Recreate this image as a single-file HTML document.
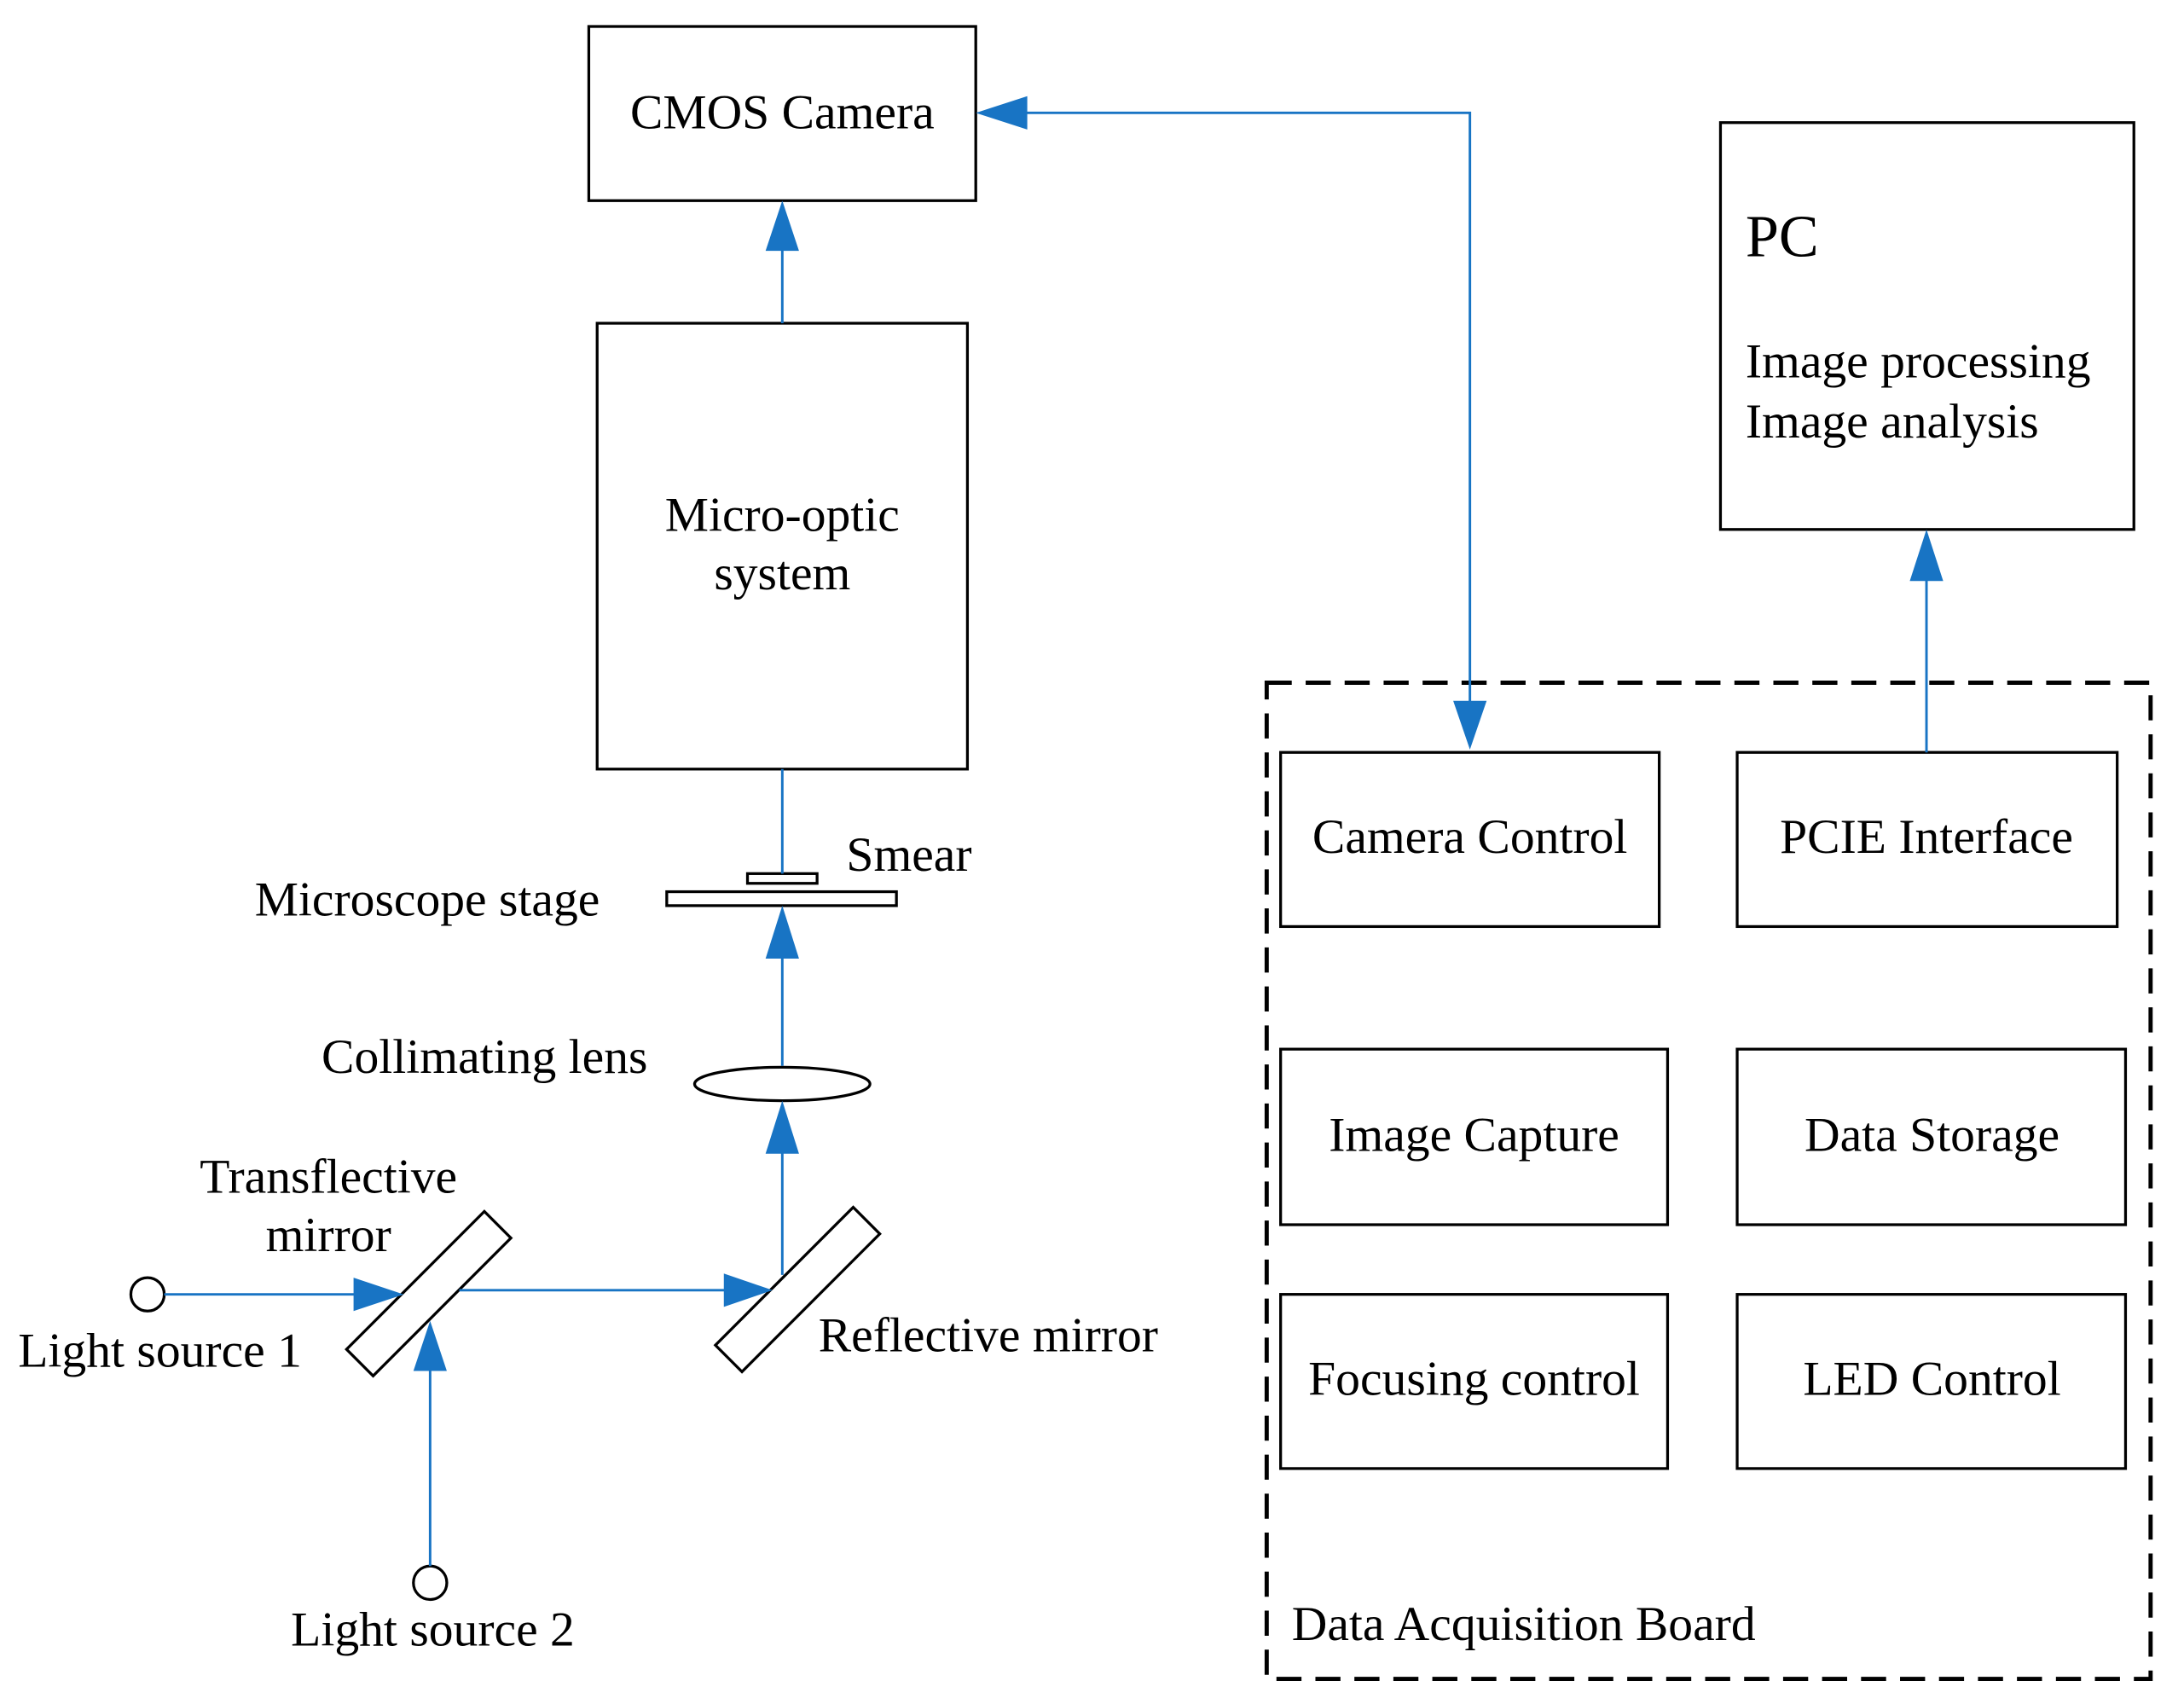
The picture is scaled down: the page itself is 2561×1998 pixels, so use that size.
<!DOCTYPE html>
<html><head><meta charset="utf-8"><style>html,body{margin:0;padding:0;background:#fff}svg{display:block}</style></head>
<body>
<svg width="2561" height="1998" viewBox="0 0 1569 1223" preserveAspectRatio="none" xmlns="http://www.w3.org/2000/svg" font-family="Liberation Serif, serif" font-size="35.3" fill="#000">
<g fill="none" stroke="#000" stroke-width="2">
<rect x="423" y="19" width="278" height="125"/>
<rect x="429" y="232" width="266" height="320"/>
<rect x="537" y="627" width="50" height="7"/>
<rect x="479" y="640" width="165" height="10"/>
<ellipse cx="562" cy="778" rx="63" ry="12"/>
<rect x="238" y="915" width="140" height="27" transform="rotate(-45 308 928.5)" fill="#fff"/>
<rect x="503" y="912" width="140" height="27" transform="rotate(-45 573 925.5)" fill="#fff"/>
<circle cx="106" cy="929" r="12"/>
<circle cx="309" cy="1136" r="12"/>
<rect x="1236" y="88" width="297" height="292"/>
<rect x="920" y="540" width="272" height="125"/>
<rect x="1248" y="540" width="273" height="125"/>
<rect x="920" y="753" width="278" height="126"/>
<rect x="1248" y="753" width="279" height="126"/>
<rect x="920" y="929" width="278" height="125"/>
<rect x="1248" y="929" width="279" height="125"/>
<rect x="910" y="490" width="635" height="715" stroke-width="3" stroke-dasharray="18,10"/>
</g>
<g stroke="#1874c4" stroke-width="1.8" fill="none">
<line x1="562" y1="232" x2="562" y2="170"/>
<line x1="562" y1="552" x2="562" y2="627"/>
<line x1="562" y1="765" x2="562" y2="680"/>
<line x1="562" y1="915" x2="562" y2="820"/>
<line x1="118" y1="929" x2="260" y2="929"/>
<line x1="330" y1="926" x2="525" y2="926"/>
<line x1="309" y1="1124" x2="309" y2="975"/>
<polyline points="1056,510 1056,81 730,81"/>
<line x1="1384" y1="540" x2="1384" y2="410"/>
</g>
<g fill="#1874c4">
<polygon points="562,144 550,180 574,180"/>
<polygon points="562,650 550,688 574,688"/>
<polygon points="562,790 550,828 574,828"/>
<polygon points="290,929 254,917 254,941"/>
<polygon points="555,926 520,914 520,938"/>
<polygon points="309,948 297,984 321,984"/>
<polygon points="701,81 738,69 738,93"/>
<polygon points="1056,538 1044,503 1068,503"/>
<polygon points="1384,380 1372,417 1396,417"/>
</g>
<g text-anchor="middle">
<text x="562" y="92">CMOS Camera</text>
<text x="562" y="381">Micro-optic</text>
<text x="562" y="423">system</text>
<text x="236" y="856">Transflective</text>
<text x="236" y="898">mirror</text>
<text x="1056" y="612">Camera Control</text>
<text x="1384" y="612">PCIE Interface</text>
<text x="1059" y="826">Image Capture</text>
<text x="1388" y="826">Data Storage</text>
<text x="1059" y="1001">Focusing control</text>
<text x="1388" y="1001">LED Control</text>
</g>
<text x="608" y="625">Smear</text>
<text x="183" y="657">Microscope stage</text>
<text x="231" y="770">Collimating lens</text>
<text x="13" y="981">Light source 1</text>
<text x="209" y="1181">Light source 2</text>
<text x="588" y="970">Reflective mirror</text>
<text x="1254" y="184" font-size="43">PC</text>
<text x="1254" y="271">Image processing</text>
<text x="1254" y="314">Image analysis</text>
<text x="928" y="1177">Data Acquisition Board</text>
</svg>
</body></html>
